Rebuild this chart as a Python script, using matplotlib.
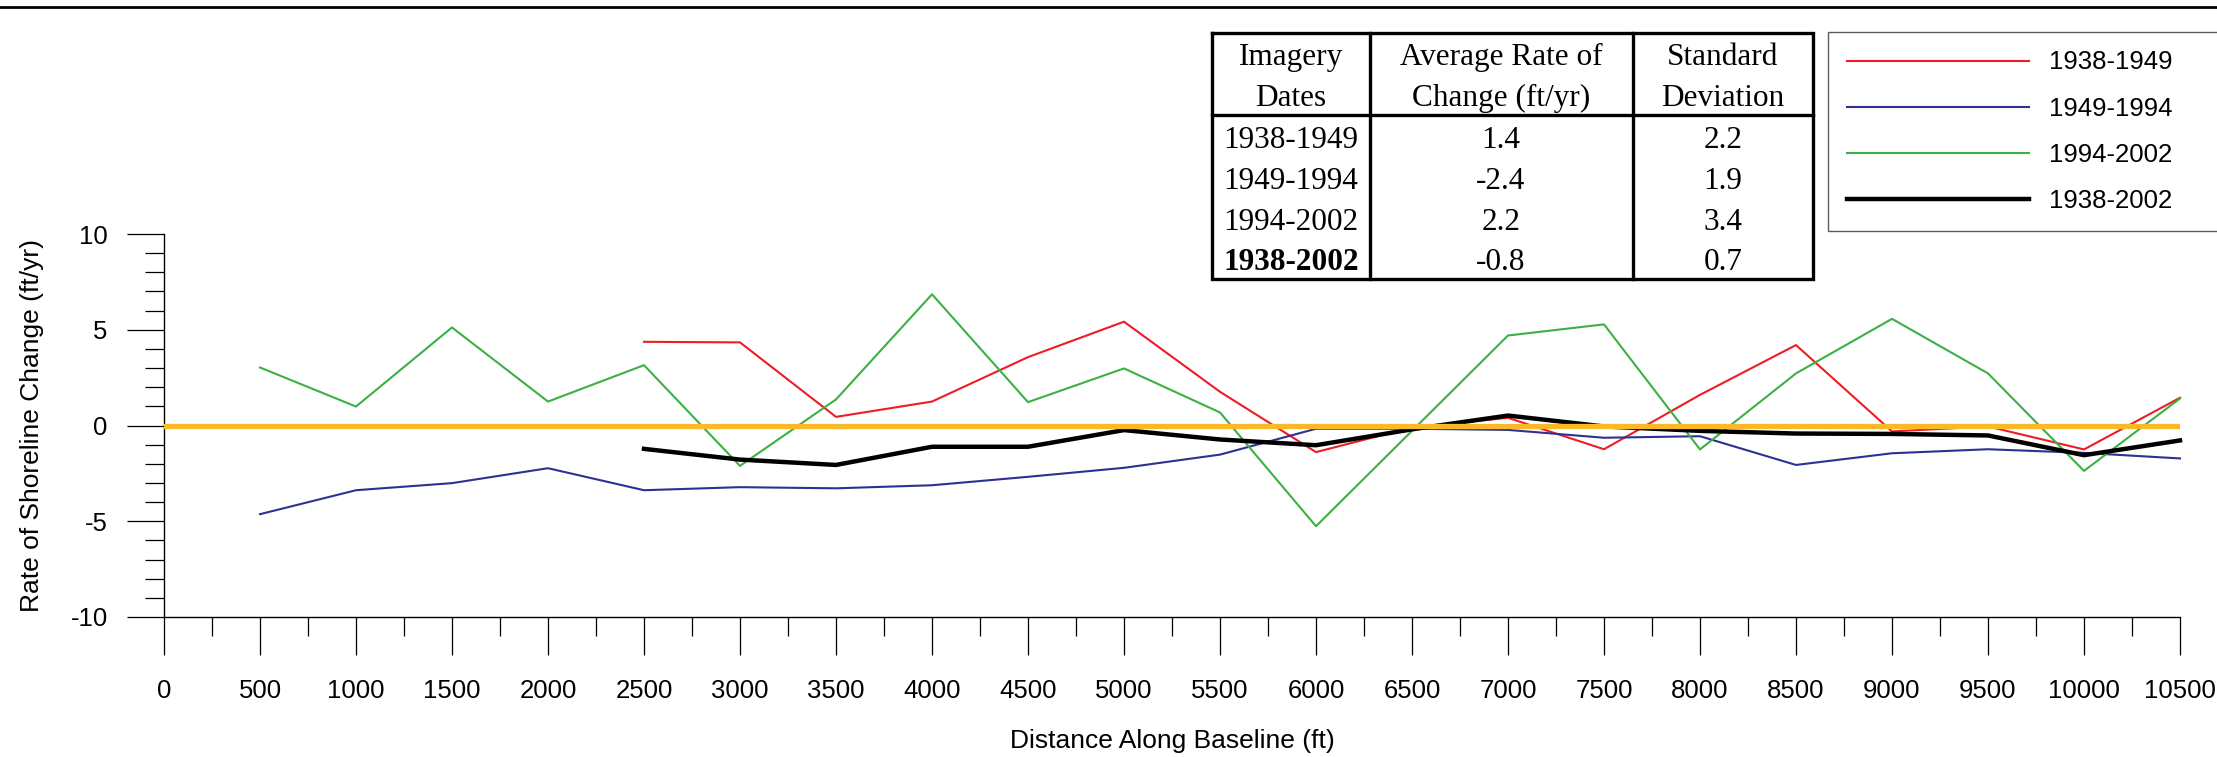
import matplotlib
matplotlib.use("Agg")
import matplotlib.pyplot as plt
from matplotlib.ticker import MultipleLocator

# distance along baseline (ft)
dist_long = [500, 1000, 1500, 2000, 2500, 3000, 3500, 4000, 4500, 5000, 5500,
             6000, 6500, 7000, 7500, 8000, 8500, 9000, 9500, 10000, 10500]
dist_short = [2500, 3000, 3500, 4000, 4500, 5000, 5500, 6000, 6500, 7000,
              7500, 8000, 8500, 9000, 9500, 10000, 10500]

# rate of shoreline change (ft/yr)
rate_1938_1949 = [4.37, 4.34, 0.45, 1.25, 3.57, 5.42, 1.76, -1.39, -0.1, 0.4,
                  -1.24, 1.6, 4.20, -0.31, -0.05, -1.25, 1.45]
rate_1949_1994 = [-4.63, -3.38, -3.01, -2.23, -3.38, -3.22, -3.28, -3.12, -2.68,
                  -2.21, -1.52, -0.17, -0.17, -0.23, -0.64, -0.56, -2.06, -1.45,
                  -1.24, -1.43, -1.72]
rate_1994_2002 = [3.03, 0.99, 5.12, 1.25, 3.15, -2.11, 1.36, 6.85, 1.22, 2.98,
                  0.68, -5.26, -0.28, 4.70, 5.28, -1.25, 2.72, 5.57, 2.72,
                  -2.37, 1.41]
rate_1938_2002 = [-1.22, -1.78, -2.06, -1.11, -1.11, -0.24, -0.73, -1.03, -0.2,
                  0.52, -0.05, -0.28, -0.42, -0.44, -0.52, -1.55, -0.78]

# summary table
table_header_1 = ["Imagery", "Average Rate of", "Standard"]
table_header_2 = ["Dates", "Change (ft/yr)", "Deviation"]
table_periods = ["1938-1949", "1949-1994", "1994-2002", "1938-2002"]
table_avg = ["1.4", "-2.4", "2.2", "-0.8"]
table_std = ["2.2", "1.9", "3.4", "0.7"]

W, H = 2217, 757
plt.rcParams['font.family'] = ['Liberation Sans', 'DejaVu Sans']
plt.rcParams['axes.unicode_minus'] = False
fig = plt.figure(figsize=(W / 100, H / 100), dpi=100)

ax = fig.add_axes([164 / W, (H - 617) / H, (2180 - 164) / W, (617 - 234) / H])

l1, = ax.plot(dist_short, rate_1938_1949, color='#ee1c25', lw=1.5, clip_on=False, zorder=3)
l2, = ax.plot(dist_long, rate_1949_1994, color='#2e3192', lw=1.5, clip_on=False, zorder=3)
l3, = ax.plot(dist_long, rate_1994_2002, color='#3cb043', lw=1.5, clip_on=False, zorder=3)
l4, = ax.plot(dist_short, rate_1938_2002, color='black', lw=3.2, clip_on=False, zorder=4)
ax.axhline(0, color='#fbb829', lw=3.8, zorder=5)

ax.set_xlim(0, 10500)
ax.set_ylim(-10, 10)
ax.spines['top'].set_visible(False)
ax.spines['right'].set_visible(False)
ax.spines['left'].set_linewidth(1.0)
ax.spines['bottom'].set_linewidth(1.0)

ax.xaxis.set_major_locator(MultipleLocator(500))
ax.xaxis.set_minor_locator(MultipleLocator(250))
ax.yaxis.set_major_locator(MultipleLocator(5))
ax.yaxis.set_minor_locator(MultipleLocator(1))
ax.tick_params(axis='x', which='major', direction='out', length=27, width=0.9,
               pad=18, labelsize=18.5)
ax.tick_params(axis='x', which='minor', direction='out', length=13.5, width=0.9)
ax.tick_params(axis='y', which='major', direction='out', length=27, width=0.9,
               pad=13.5, labelsize=18.5)
ax.tick_params(axis='y', which='minor', direction='out', length=13.5, width=0.9)

ax.set_xlabel("Distance Along Baseline (ft)", fontsize=19)
ax.xaxis.set_label_coords(0.5, -(729 - 617) / 383)
ax.set_ylabel("Rate of Shoreline Change (ft/yr)", fontsize=19)
ax.yaxis.set_label_coords((44 - 164) / 2016, 0.5)

# legend
leg = fig.legend([l1, l2, l3, l4], table_periods, loc='upper left',
                 bbox_to_anchor=(1828 / W, (H - 228) / H, (2260 - 1828) / W, (228 - 32) / H),
                 mode='expand', fontsize=18.5, handlelength=7.1, handletextpad=0.8,
                 labelspacing=0.86, borderpad=0.72, borderaxespad=0, fancybox=False)
leg.get_frame().set_edgecolor('#333333')
leg.get_frame().set_linewidth(1.0)

# summary table drawn in pixel coordinates
tax = fig.add_axes([0, 0, 1, 1], zorder=10)
tax.set_xlim(0, W)
tax.set_ylim(H, 0)
tax.axis('off')
tab_l, tab_r, tab_t, tab_b = 1212, 1813, 33, 279
col_sep = [1370, 1633]
head_sep = 115
lw_tab = 2.4
tax.plot([tab_l, tab_r, tab_r, tab_l, tab_l], [tab_t, tab_t, tab_b, tab_b, tab_t],
         color='black', lw=lw_tab, solid_joinstyle='miter')
for cx in col_sep:
    tax.plot([cx, cx], [tab_t, tab_b], color='black', lw=lw_tab)
tax.plot([tab_l, tab_r], [head_sep, head_sep], color='black', lw=lw_tab)

col_cx = [1291, 1501, 1723]
serif = ['Liberation Serif', 'DejaVu Serif']
for i in range(3):
    tax.text(col_cx[i], 65, table_header_1[i], ha='center', va='baseline',
             fontsize=22.5, family=serif)
    tax.text(col_cx[i], 106, table_header_2[i], ha='center', va='baseline',
             fontsize=22.5, family=serif)
row_base = [148, 189, 230, 270]
for j in range(4):
    wt = 'bold' if j == 3 else 'normal'
    tax.text(col_cx[0], row_base[j], table_periods[j], ha='center', va='baseline',
             fontsize=22.5, family=serif, fontweight=wt)
    tax.text(col_cx[1], row_base[j], table_avg[j], ha='center', va='baseline',
             fontsize=22.5, family=serif)
    tax.text(col_cx[2], row_base[j], table_std[j], ha='center', va='baseline',
             fontsize=22.5, family=serif)

# rule across the top of the page
tax.plot([0, W], [7, 7], color='black', lw=2.0)

fig.savefig("out.png", dpi=100)
